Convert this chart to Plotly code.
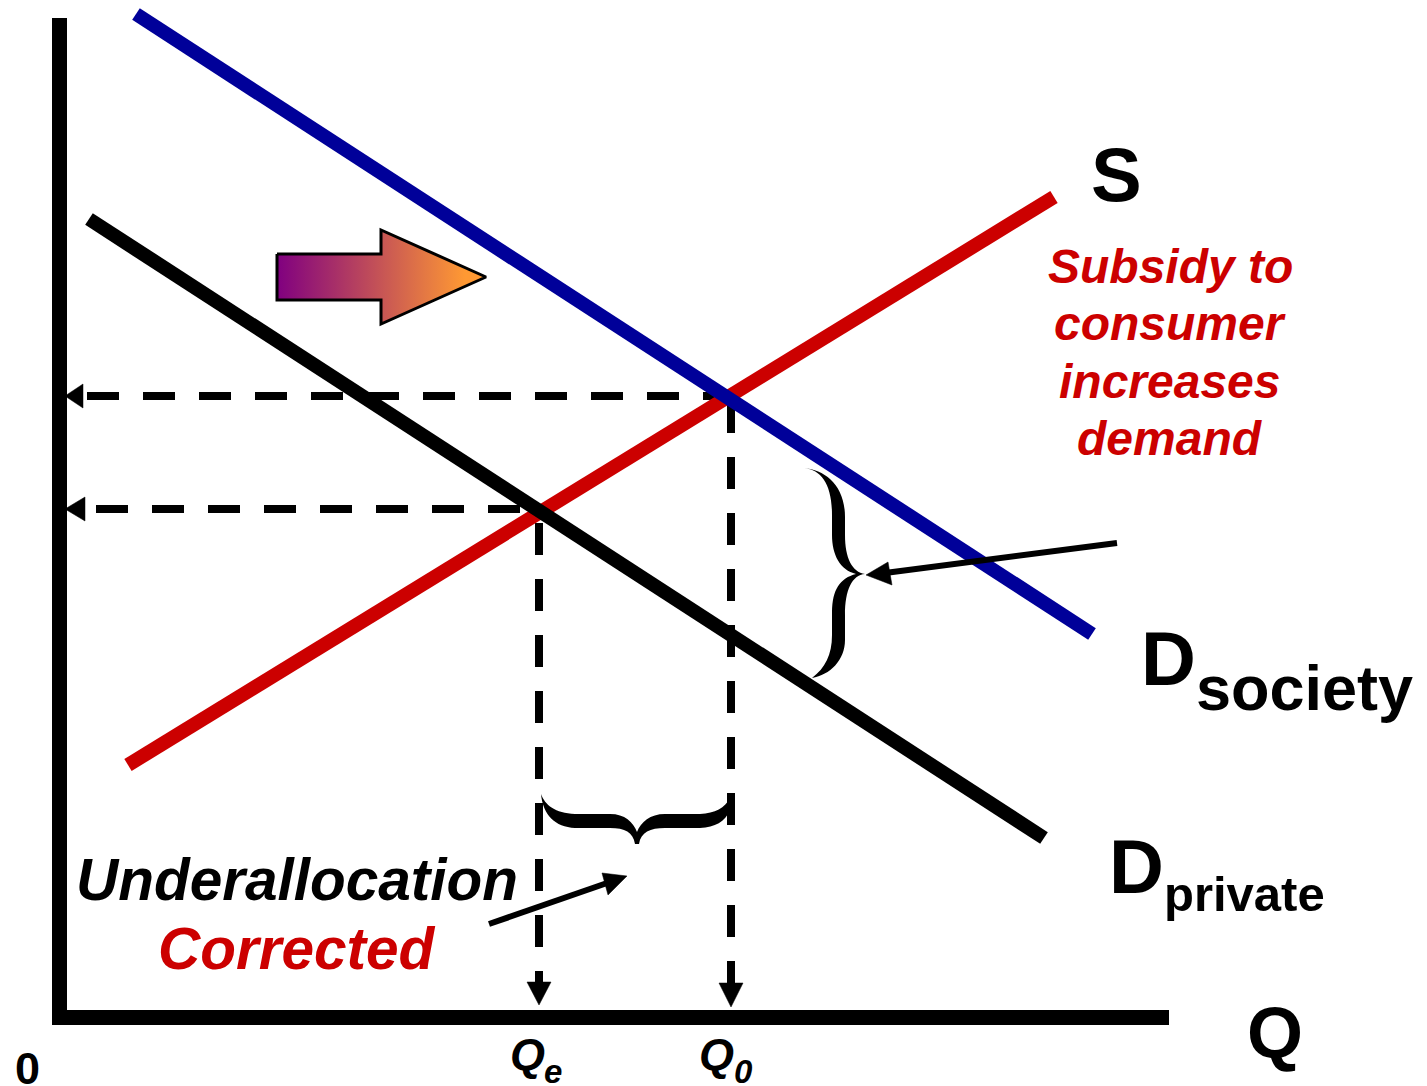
import plotly.graph_objects as go

# ---- data, read in picture units ----
supply_x = [128, 1054]; supply_y = [765, 197]
d_society_x = [136, 1092]; d_society_y = [14, 634]
d_private_x = [89, 1044]; d_private_y = [219, 838]
axis_y_x = [59.5, 59.5]; axis_y_y = [18, 1025]
axis_x_x = [52, 1169]; axis_x_y = [1017.5, 1017.5]
price_levels = [396, 509]
price_starts = [87, 96]
price_ends = [725, 535]
price_head_tips = [65, 65]
price_head_bases = [83, 85]
quantity_levels = [539, 731]
quantity_starts = [523, 401]
quantity_head_tips = [1005, 1007]
quantity_head_bases = [982, 983]
shift_arrow_x = [277, 381, 381, 486, 381, 381, 277, 277]
shift_arrow_y = [254, 254, 230, 277, 324, 300, 300, 254]
pointer_a = [(1117, 543), (885, 573)]
pointer_a_head = [(866, 575), (888, 562), (892, 585)]
pointer_b = [(489, 924), (610, 882)]
pointer_b_head = [(627, 876), (602, 873), (608, 895)]
brace_v = ("M 804 468 C 825 470 845 485 845 517 L 845 535 C 845 558 852 572 865 574 "
           "C 852 575 845 590 845 615 L 845 640 C 845 660 830 675 812 678 "
           "C 825 668 832 655 832 635 L 832 612 C 832 590 840 578 856 574 "
           "C 840 570 832 555 832 535 L 832 515 C 832 485 822 470 804 468 Z")
brace_h = ("M 541 794 C 545 805 555 813 575 814 L 610 814 C 625 814 633 822 637 832 "
           "C 641 822 650 814 665 814 L 700 814 C 715 813 725 808 730 798 L 730 810 "
           "C 725 822 715 827 700 828 L 665 828 C 650 828 641 832 639 844 L 635 844 "
           "C 633 832 625 828 610 828 L 575 828 C 555 827 543 815 541 794 Z")
RED = "#CC0000"; BLUE = "#000099"; BLACK = "#000000"
FONT = "Liberation Sans"

fig = go.Figure()

def line(x, y, color, width, dash=None):
    fig.add_trace(go.Scatter(x=x, y=y, mode="lines", hoverinfo="skip", showlegend=False,
                             line=dict(color=color, width=width, dash=dash)))

def tri(pts):
    xs = [p[0] for p in pts] + [pts[0][0]]
    ys = [p[1] for p in pts] + [pts[0][1]]
    fig.add_trace(go.Scatter(x=xs, y=ys, mode="lines", fill="toself", fillcolor=BLACK,
                             hoverinfo="skip", showlegend=False, line=dict(color=BLACK, width=0.5)))

# dashed guides
for lvl, start, end, tip, base in zip(price_levels, price_starts, price_ends,
                                      price_head_tips, price_head_bases):
    line([start, end], [lvl, lvl], BLACK, 8, "32px,24px")
    tri([(tip, lvl), (base, lvl - 12), (base, lvl + 12)])
for q, start, tip, base in zip(quantity_levels, quantity_starts,
                               quantity_head_tips, quantity_head_bases):
    line([q, q], [start, base + 2], BLACK, 8, "32px,24px")
    tri([(q, tip), (q - 12, base), (q + 12, base)])

# shift arrow
fig.add_trace(go.Scatter(x=shift_arrow_x, y=shift_arrow_y, mode="lines", fill="toself",
                         hoverinfo="skip", showlegend=False, line=dict(color=BLACK, width=3),
                         fillgradient=dict(type="horizontal",
                                           colorscale=[[0, "#800080"], [0.9, "#FF9933"], [1, "#FF9933"]])))

line(supply_x, supply_y, RED, 14)
line(d_society_x, d_society_y, BLUE, 14)
line(d_private_x, d_private_y, BLACK, 14)
line(axis_y_x, axis_y_y, BLACK, 15)
line(axis_x_x, axis_x_y, BLACK, 15)

for seg, head in [(pointer_a, pointer_a_head), (pointer_b, pointer_b_head)]:
    line([seg[0][0], seg[1][0]], [seg[0][1], seg[1][1]], BLACK, 6)
    tri(head)

shapes = [dict(type="path", path=p, xref="x", yref="y", fillcolor=BLACK,
               line=dict(width=0), layer="above") for p in (brace_v, brace_h)]

labels = [
    ("S", 1116, 174, 76, BLACK, False),
    ("Subsidy to", 1170, 266, 48, RED, True),
    ("consumer", 1170, 323, 48, RED, True),
    ("increases", 1170, 381, 48, RED, True),
    ("demand", 1170, 438, 48, RED, True),
    ("D", 1168, 658, 76, BLACK, False),
    ("society", 1304, 688, 63, BLACK, False),
    ("D", 1136, 866, 76, BLACK, False),
    ("private", 1244, 894, 49, BLACK, False),
    ("Underallocation", 297, 879, 58.5, BLACK, True),
    ("Corrected", 297, 948, 58.5, RED, True),
    ("Q", 1275, 1033, 72, BLACK, False),
    ("Q", 527, 1054, 45, BLACK, True),
    ("e", 553, 1071, 33, BLACK, True),
    ("Q", 716, 1054, 45, BLACK, True),
    ("0", 743, 1071, 33, BLACK, True),
    ("0", 27, 1068, 45, BLACK, False),
]
annos = [dict(text=t, x=x, y=y, xref="x", yref="y", showarrow=False, xanchor="center",
              yanchor="middle",
              font=dict(family=FONT, size=s, color=c, weight="bold",
                        style="italic" if it else "normal"))
         for t, x, y, s, c, it in labels]

fig.update_layout(width=1427, height=1086, margin=dict(l=0, r=0, t=0, b=0),
                  paper_bgcolor="white", plot_bgcolor="white", showlegend=False,
                  xaxis=dict(visible=False, range=[0, 1427]),
                  yaxis=dict(visible=False, range=[1086, 0]),
                  shapes=shapes, annotations=annos)
fig.write_html("out.html", config={"displayModeBar": False},
               post_script="document.body.style.margin='0';window.dispatchEvent(new Event('resize'));")
